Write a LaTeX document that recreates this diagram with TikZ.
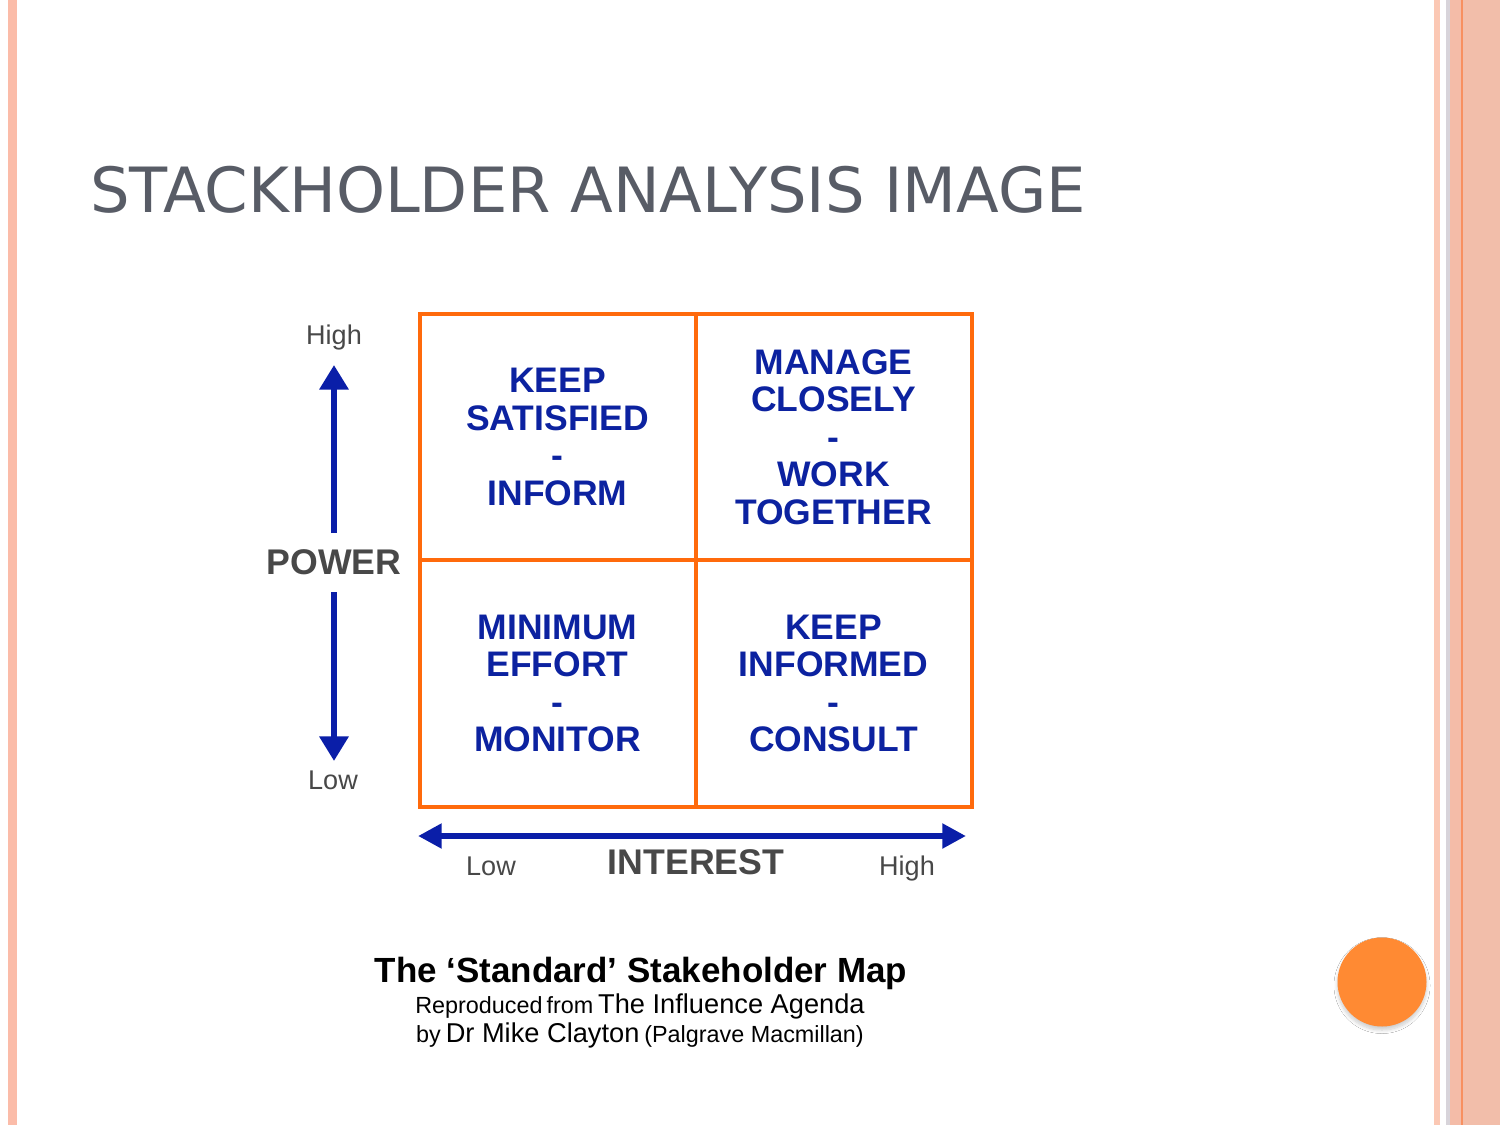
\documentclass[tikz,border=0pt]{standalone}
\usepackage{fontspec}
\setmainfont{Liberation Sans}
\newfontfamily\titlefont{DejaVu Sans}
\usetikzlibrary{arrows.meta,shadows.blur}
\definecolor{gridorange}{RGB}{255,106,12}
\definecolor{qblue}{RGB}{12,34,160}
\definecolor{arrowblue}{RGB}{10,30,168}
\definecolor{axisgray}{RGB}{72,72,72}
\definecolor{titlegray}{RGB}{88,92,102}
\definecolor{stripe}{RGB}{251,188,169}
\definecolor{stripeA}{RGB}{251,200,180}
\definecolor{stripeB}{RGB}{216,212,218}
\definecolor{stripeC}{RGB}{244,188,168}
\definecolor{stripeD}{RGB}{248,144,96}
\definecolor{stripeE}{RGB}{242,190,170}
\definecolor{dotorange}{RGB}{255,138,51}
\tikzset{
  x=0.02cm, y=-0.02cm,
  cell/.style={draw=gridorange, line width=2.27pt, minimum width=276*0.02cm, minimum height=246.5*0.02cm,
    inner sep=0pt, align=center, text=qblue, font=\fontsize{20.2pt}{21.4pt}\selectfont\bfseries},
  axislabel/.style={text=axisgray, font=\fontsize{15.4pt}{17pt}\selectfont, inner sep=0pt},
  axistitle/.style={text=axisgray, font=\fontsize{20.3pt}{22pt}\selectfont\bfseries, inner sep=0pt},
  axisarrow/.style={draw=arrowblue, line width=3.4pt, -{Triangle[length=14pt,width=16pt]}},
  haxis/.style={draw=arrowblue, line width=3.4pt, {Triangle[length=13.5pt,width=13.5pt]}-{Triangle[length=13.5pt,width=13.5pt]}},
}
\newcommand{\capS}{\fontsize{13.3pt}{15pt}\selectfont}
\newcommand{\capL}{\fontsize{15.5pt}{17pt}\selectfont}
\begin{document}
\begin{tikzpicture}
\useasboundingbox (0,0) rectangle (1500,1125);
\fill[white] (0,0) rectangle (1500,1125);
% side stripes
\fill[stripe] (8,0) rectangle (17,1125);
\fill[stripeA] (1434,0) rectangle (1440,1125);
\fill[stripeB] (1446,0) rectangle (1450,1125);
\fill[stripeC] (1450,0) rectangle (1461,1125);
\fill[stripeD] (1461,0) rectangle (1463,1125);
\fill[stripeE] (1463,0) rectangle (1500,1125);

% title
\node[anchor=base west, text=titlegray, font=\titlefont\fontsize{35.5pt}{38pt}\selectfont, inner sep=0pt] (title) at (90,213) {STACKHOLDER ANALYSIS IMAGE};

% grid
\node[cell] (tl) at (557.5,437) {KEEP\\SATISFIED\\-\\INFORM};
\node[cell] (tr) at (833.5,437) {MANAGE\\CLOSELY\\-\\WORK\\TOGETHER};
\node[cell] (bl) at (557.5,683.5) {MINIMUM\\EFFORT\\-\\MONITOR};
\node[cell] (br) at (833.5,683.5) {KEEP\\INFORMED\\-\\CONSULT};

% power axis
\node[axistitle] (power) at (334,562) {POWER};
\node[axislabel] (phigh) at (334,338) {High};
\node[axislabel] (plow) at (333,780) {Low};
\coordinate (pup0) at (334,533);
\coordinate (pup1) at (334,365);
\coordinate (pdn0) at (334,592);
\coordinate (pdn1) at (334,761);
\draw[axisarrow] (pup0) -- (pup1);
\draw[axisarrow] (pdn0) -- (pdn1);

% interest axis
\coordinate (ileft) at (418,836);
\coordinate (iright) at (966,836);
\draw[haxis] (ileft) -- (iright);
\node[axistitle] (interest) at (696,862) {INTEREST};
\node[axislabel] (ilow) at (491,866) {Low};
\node[axislabel] (ihigh) at (907,868) {High};

% caption
\node[font=\fontsize{19.9pt}{22pt}\selectfont\bfseries, inner sep=0pt] (cap1) at (641,973) {The ‘Standard’ Stakeholder Map};
\node[inner sep=0pt] (cap2) at (640,1006) {{\capS Reproduced\,from} {\capL The Influence Agenda}};
\node[inner sep=0pt] (cap3) at (640,1035) {{\capS by} {\capL Dr Mike Clayton} {\capS (Palgrave Macmillan)}};

% orange dot
\node[circle, fill=dotorange, minimum size=89*0.02cm, inner sep=0pt,
  blur shadow={shadow blur steps=8, shadow xshift=0pt, shadow yshift=-2pt, shadow opacity=20, shadow blur radius=2pt}] (dot) at (1382,982) {};
\end{tikzpicture}
\end{document}
